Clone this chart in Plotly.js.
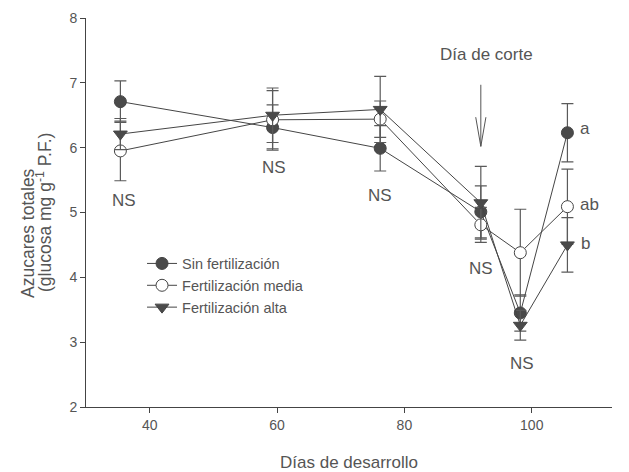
<!DOCTYPE html>
<html>
<head>
<meta charset="utf-8">
<script src="https://cdn.plot.ly/plotly-3.0.1.min.js"></script>
<style>html,body{margin:0;padding:0;background:#fff;}#chart{width:629px;height:472px;}</style>
</head>
<body>
<div id="chart"></div>
<script>
// Data
const dias = [35.4, 59.3, 76.2, 92.0, 98.2, 105.6];
const sinFert = [6.71, 6.31, 5.99, 5.01, 3.45, 6.23];
const sinErr = [0.32, 0.35, 0.35, 0.40, 0.28, 0.45];
const fertMedia = [5.95, 6.43, 6.44, 4.81, 4.38, 5.09];
const mediaErr = [0.46, 0.45, 0.28, 0.27, 0.67, 0.58];
const fertAlta = [6.21, 6.50, 6.59, 5.15, 3.26, 4.50];
const altaErr = [0.24, 0.42, 0.51, 0.56, 0.23, 0.42];
const seriesNames = ["Sin fertilización", "Fertilización media", "Fertilización alta"];

const nsX = [35.9, 59.5, 76.2, 92.0, 98.5];
const nsY = [5.18, 5.70, 5.27, 4.14, 2.67];
const letterX = [108.4, 109.0, 108.5];
const letterY = [6.30, 5.12, 4.52];
const letterText = ["a", "ab", "b"];
const corteX = 92.0;
const corteTop = 6.97;
const corteTip = 6.02;
const yTitleLines = ['Azucares totales', '(glucosa mg g<sup>-1</sup> P.F.)'];

const lineCol = '#454545';
const errCol = '#5a5a5a';
const textCol = '#555555';

function trace(y, err, name, symbol, fill) {
  return {
    x: dias, y: y, name: name, type: 'scatter', mode: 'lines+markers',
    line: {color: lineCol, width: 1},
    marker: {symbol: symbol, size: 12, color: fill, line: {color: lineCol, width: 1}},
    error_y: {type: 'data', array: err, visible: true, color: errCol, thickness: 1.2, width: 6}
  };
}

const data = [
  trace(sinFert, sinErr, seriesNames[0], 'circle', '#4a4a4a'),
  trace(fertMedia, mediaErr, seriesNames[1], 'circle', '#ffffff'),
  trace(fertAlta, altaErr, seriesNames[2], 'triangle-down', '#4a4a4a')
];

const annotations = [];
nsX.forEach((x, i) => annotations.push({x: x, y: nsY[i], text: 'NS', showarrow: false,
  font: {size: 17, color: textCol}}));
letterX.forEach((x, i) => annotations.push({x: x, y: letterY[i], text: letterText[i], showarrow: false,
  font: {size: 17, color: textCol}}));
annotations.push({x: 92.9, y: 7.44, text: 'Día de corte', showarrow: false, font: {size: 17, color: textCol}});
// y-axis title as two rotated lines, both starting near the same bottom point
annotations.push({xref: 'paper', yref: 'paper', x: (28 - 86) / 526, y: (407 - 233) / 389,
  text: yTitleLines[0], textangle: -90, showarrow: false, xanchor: 'center', yanchor: 'middle',
  font: {size: 17.5, color: textCol}});
annotations.push({xref: 'paper', yref: 'paper', x: (44 - 86) / 526, y: (407 - 213) / 389,
  text: yTitleLines[1], textangle: -90, showarrow: false, xanchor: 'center', yanchor: 'middle',
  font: {size: 17.5, color: textCol}});

const shapes = [
  {type: 'line', xref: 'x', yref: 'y', x0: corteX, x1: corteX, y0: corteTop, y1: corteTip, line: {color: '#555', width: 1}},
  {type: 'line', xref: 'x', yref: 'y', x0: corteX - 0.8, x1: corteX, y0: corteTip + 0.45, y1: corteTip, line: {color: '#555', width: 1}},
  {type: 'line', xref: 'x', yref: 'y', x0: corteX + 0.8, x1: corteX, y0: corteTip + 0.45, y1: corteTip, line: {color: '#555', width: 1}}
];

const layout = {
  width: 629, height: 472,
  margin: {l: 86, r: 17, t: 18, b: 65},
  paper_bgcolor: '#fff', plot_bgcolor: '#fff',
  font: {family: 'Liberation Sans, Arial, sans-serif', color: textCol, size: 14},
  showlegend: true,
  legend: {x: 0.1065, y: 0.41, xanchor: 'left', yanchor: 'top', bgcolor: 'rgba(0,0,0,0)',
    font: {size: 14.5, color: textCol}, tracegroupgap: 0, itemwidth: 30},
  xaxis: {range: [30, 112.6], tickvals: [40, 60, 80, 100], ticks: 'outside', ticklen: 5,
    tickcolor: '#444', showline: true, linecolor: '#444', linewidth: 1, showgrid: false, zeroline: false,
    tickfont: {size: 14, color: textCol},
    title: {text: 'Días de desarrollo', font: {size: 17, color: textCol}, standoff: 24}},
  yaxis: {range: [2, 8], tickvals: [2, 3, 4, 5, 6, 7, 8], ticks: 'outside', ticklen: 5,
    tickcolor: '#444', showline: true, linecolor: '#444', linewidth: 1, showgrid: false, zeroline: false,
    tickfont: {size: 14, color: textCol}},
  annotations: annotations,
  shapes: shapes
};

Plotly.newPlot('chart', data, layout, {displayModeBar: false, staticPlot: true});
</script>
</body>
</html>
